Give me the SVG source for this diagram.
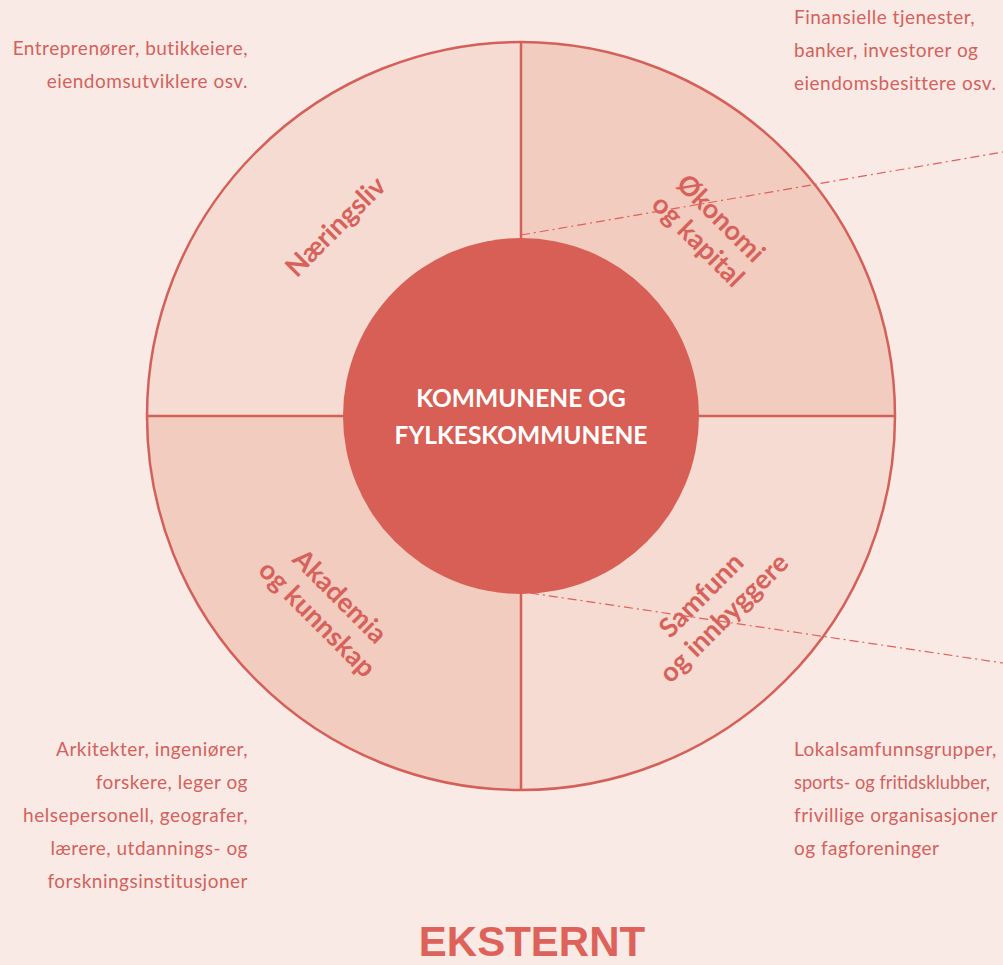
<svg xmlns="http://www.w3.org/2000/svg" width="1003" height="965" viewBox="0 0 1003 965">
<defs>
<style>
.desc{font-family:Lato,"Noto Sans",sans-serif;font-size:19px;letter-spacing:0.5px;fill:#D2625D;}
.lbl{font-family:Lato,"Noto Sans",sans-serif;font-size:27px;font-weight:bold;fill:#D7625B;text-anchor:middle;}
.ctr{font-family:Lato,"Noto Sans",sans-serif;font-size:24.5px;font-weight:bold;fill:#FFFFFF;text-anchor:middle;}
.quad{stroke:#D4605A;stroke-width:2.5;}
.dash{stroke:#E0605A;stroke-width:1.2;fill:none;stroke-dasharray:9 4 2 4;}
</style>
</defs>
<rect x="0" y="0" width="1003" height="965" fill="#F9EAE6"/>
<g id="wheel">
<path d="M521 416 L521 42 A374 374 0 0 0 147 416 Z" fill="#F5DBD1"/>
<path d="M521 416 L521 42 A374 374 0 0 1 895 416 Z" fill="#F2CCBF"/>
<path d="M521 416 L147 416 A374 374 0 0 0 521 790 Z" fill="#F2CCBF"/>
<path d="M521 416 L895 416 A374 374 0 0 1 521 790 Z" fill="#F5DBD1"/>
<circle cx="521" cy="416" r="374" fill="none" class="quad"/>
<line x1="521" y1="42" x2="521" y2="790" class="quad"/>
<line x1="147" y1="416" x2="895" y2="416" class="quad"/>
</g>
<g id="connectors">
<line x1="521" y1="235" x2="1003" y2="152" class="dash"/>
<line x1="530" y1="593" x2="1003" y2="663" class="dash"/>
</g>
<g id="center">
<circle cx="521" cy="416" r="178" fill="#D75F55"/>
<text class="ctr" x="521" y="407">KOMMUNENE OG</text>
<text class="ctr" x="521" y="444">FYLKESKOMMUNENE</text>
</g>
<g id="naeringsliv">
<text class="lbl" transform="translate(335 226) rotate(-45)" y="10">Næringsliv</text>
</g>
<g id="okonomi">
<text class="lbl" transform="translate(710 229) rotate(45)"><tspan x="0" y="-6">Økonomi</tspan><tspan x="0" y="26">og kapital</tspan></text>
</g>
<g id="akademia">
<text class="lbl" transform="translate(329 607) rotate(45)"><tspan x="0" y="-6">Akademia</tspan><tspan x="0" y="26">og kunnskap</tspan></text>
</g>
<g id="samfunn">
<text class="lbl" transform="translate(712 606) rotate(-45)"><tspan x="0" y="-6">Samfunn</tspan><tspan x="0" y="26">og innbyggere</tspan></text>
</g>
<g id="desc-tl">
<text class="desc" text-anchor="end"><tspan x="248" y="55">Entreprenører, butikkeiere,</tspan><tspan x="248" y="88">eiendomsutviklere osv.</tspan></text>
</g>
<g id="desc-tr">
<text class="desc"><tspan x="794" y="24">Finansielle tjenester,</tspan><tspan x="794" y="57">banker, investorer og</tspan><tspan x="794" y="90">eiendomsbesittere osv.</tspan></text>
</g>
<g id="desc-bl">
<text class="desc" text-anchor="end"><tspan x="248" y="756">Arkitekter, ingeniører,</tspan><tspan x="248" y="789">forskere, leger og</tspan><tspan x="248" y="822">helsepersonell, geografer,</tspan><tspan x="248" y="855">lærere, utdannings- og</tspan><tspan x="248" y="888">forskningsinstitusjoner</tspan></text>
</g>
<g id="desc-br">
<text class="desc" x="794" y="756">Lokalsamfunnsgrupper,</text>
<text class="desc" x="794" y="789" style="letter-spacing:0" textLength="196" lengthAdjust="spacingAndGlyphs">sports- og fritidsklubber,</text>
<text class="desc" x="794" y="822">frivillige organisasjoner</text>
<text class="desc" x="794" y="855">og fagforeninger</text>
</g>
<g id="title">
<text x="532" y="956" text-anchor="middle" font-family="'Liberation Sans',Arial,sans-serif" font-weight="bold" font-size="42" fill="#DC625A">EKSTERNT</text>
</g>
</svg>
